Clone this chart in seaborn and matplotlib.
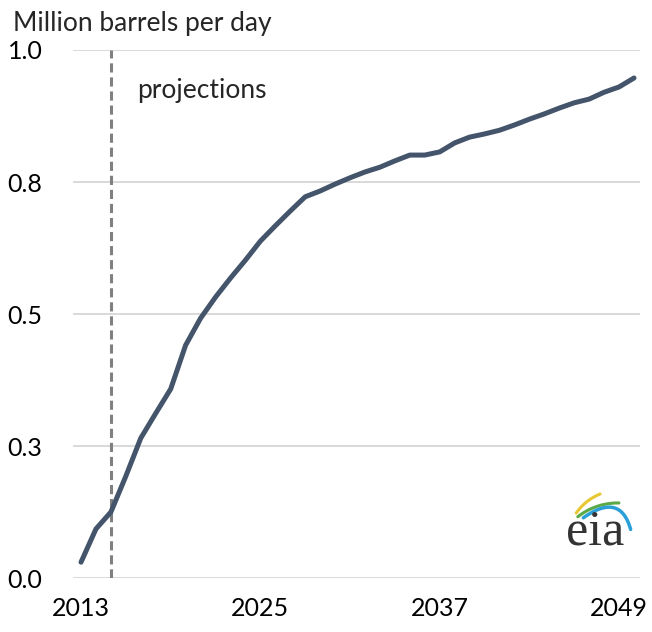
import numpy as np
import pandas as pd
import matplotlib
matplotlib.use('Agg')
import matplotlib.pyplot as plt
import seaborn as sns

sns.set_style('white')
plt.rcParams['font.family'] = ['Lato', 'DejaVu Sans']

# data, million barrels per day
years = list(range(2013, 2051))
production = [0.030, 0.093, 0.125, 0.193, 0.265, 0.312, 0.358, 0.441, 0.492, 0.532,
              0.568, 0.602, 0.638, 0.667, 0.695, 0.722, 0.733, 0.746, 0.758, 0.769,
              0.778, 0.790, 0.801, 0.801, 0.807, 0.824, 0.835, 0.841, 0.848, 0.858,
              0.869, 0.879, 0.890, 0.900, 0.907, 0.920, 0.930, 0.947]
proj_start = 2015
x_ticks = [2013, 2025, 2037, 2049]
y_ticks = [0.0, 0.25, 0.5, 0.75, 1.0]
y_labels = ['0.0', '0.3', '0.5', '0.8', '1.0']

df = pd.DataFrame({'year': years, 'value': production})

fig = plt.figure(figsize=(6.52, 6.32), dpi=100)
ax = fig.add_axes([0.112, 0.0854, 0.8696, 0.8355])

for yv in y_ticks:
    ax.axhline(yv, color='#d9d9d9', lw=1.4, zorder=1)
ax.axvline(proj_start, color='#808080', lw=2.2, ls=(0, (3, 1.6)), zorder=2)

sns.lineplot(data=df, x='year', y='value', color='#44546a', lw=3.6, ax=ax, zorder=3)

ax.set_xlim(2012.465, 2050.4)
ax.set_ylim(0, 1.0)
ax.set_xticks(x_ticks)
ax.set_xticklabels([str(t) for t in x_ticks])
ax.set_yticks(y_ticks)
ax.set_yticklabels(y_labels)
ax.tick_params(axis='x', length=0, pad=14, labelsize=18, colors='black')
ax.tick_params(axis='y', length=0, pad=22, labelsize=18, colors='black')
ax.set_xlabel('')
ax.set_ylabel('')
for s in ax.spines.values():
    s.set_visible(False)

ax.text(2016.75, 0.924, 'projections', fontsize=19, ha='left', va='center')
fig.text(0.02, 0.963, 'Million barrels per day', fontsize=19, ha='left', va='center')

# eia logo (drawn roughly: serif letters plus three swooshes)
fig.text(0.868, 0.138, 'eia', fontsize=36, family=['Liberation Serif', 'DejaVu Serif'],
         color='#333333', ha='left', va='baseline')
lax = fig.add_axes([0.859, 0.114, 0.123, 0.127])
lax.set_xlim(0, 1)
lax.set_ylim(0, 1)
lax.axis('off')
t = np.radians(np.linspace(112, 145, 30))
lax.plot(0.75 + 0.67 * np.cos(t), 0.2 + 0.67 * np.sin(t), color='#e8c832', lw=2.2, solid_capstyle='round')
t = np.radians(np.linspace(89, 128, 30))
lax.plot(0.72 + 0.81 * np.cos(t), -0.1 + 0.81 * np.sin(t), color='#5aa846', lw=2.2, solid_capstyle='round')
s = np.linspace(0, 1, 40)
p0, p1, p2 = np.array([0.29, 0.525]), np.array([0.75, 0.85]), np.array([0.88, 0.38])
curve = np.outer((1 - s) ** 2, p0) + np.outer(2 * s * (1 - s), p1) + np.outer(s ** 2, p2)
lax.plot(curve[:, 0], curve[:, 1], color='#2a9fd8', lw=2.5, solid_capstyle='round')

fig.savefig('out.png', dpi=100)
